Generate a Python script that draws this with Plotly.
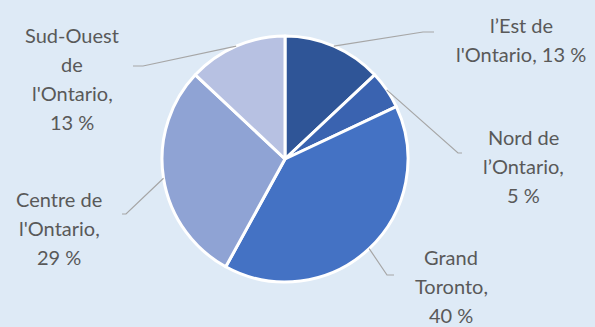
import math

import plotly.graph_objects as go

# data
regions = ["l’Est de l'Ontario", "Nord de l’Ontario", "Grand Toronto", "Centre de l'Ontario", "Sud-Ouest de l'Ontario"]
shares = [13, 5, 40, 29, 13]
label_lines = [
    ["l’Est de", "l'Ontario, 13 %"],
    ["Nord de", "l’Ontario,", "5 %"],
    ["Grand", "Toronto,", "40 %"],
    ["Centre de", "l'Ontario,", "29 %"],
    ["Sud-Ouest", "de", "l'Ontario,", "13 %"],
]
colors = ["#2F5597", "#3A63B0", "#4472C4", "#8FA3D4", "#B7C1E2"]

W, H = 595, 327
CX, CY, R = 285, 159, 123

# label layout (pixels): text centre x, first line centre y, leader elbow, leader end
label_pos = [
    (521, 25, (423, 32), (434, 32)),
    (523, 137, (458, 153), (462, 153)),
    (451, 257, (387, 275), (394, 275)),
    (59, 199, (126, 214), (122, 214)),
    (72, 35, (143, 66), (133, 66)),
]
LINE_GAP = 29


def px(x):
    return x / W


def py(y):
    return 1 - y / H


fig = go.Figure(
    go.Pie(
        labels=regions,
        values=shares,
        sort=False,
        direction="clockwise",
        rotation=0,
        marker=dict(colors=colors, line=dict(color="white", width=3)),
        textinfo="none",
        hoverinfo="label+percent",
        domain=dict(x=[px(CX - R), px(CX + R)], y=[py(CY + R), py(CY - R)]),
        showlegend=False,
    )
)

total = sum(shares)
cum = 0
for v, lines, (tx, ty, elbow, end) in zip(shares, label_lines, label_pos):
    mid = (cum + v / 2) / total * 2 * math.pi
    cum += v
    sx = CX + R * math.sin(mid)
    sy = CY - R * math.cos(mid)
    fig.add_shape(
        type="path",
        xref="paper",
        yref="paper",
        path=f"M {px(sx)},{py(sy)} L {px(elbow[0])},{py(elbow[1])} L {px(end[0])},{py(end[1])}",
        line=dict(color="#A6A6A6", width=1.2),
    )
    for i, t in enumerate(lines):
        fig.add_annotation(
            x=px(tx),
            y=py(ty + i * LINE_GAP),
            xref="paper",
            yref="paper",
            text=t,
            showarrow=False,
            xanchor="center",
            yanchor="middle",
            font=dict(family="Lato", size=20, color="#595959"),
        )

fig.update_layout(
    width=W,
    height=H,
    margin=dict(l=0, r=0, t=0, b=0),
    paper_bgcolor="#DEEAF6",
    plot_bgcolor="#DEEAF6",
)

# drop the browser's default body margin so the chart fills the window
fig.write_html(
    "out.html",
    config={"displayModeBar": False},
    post_script="document.body.style.margin='0';",
)
